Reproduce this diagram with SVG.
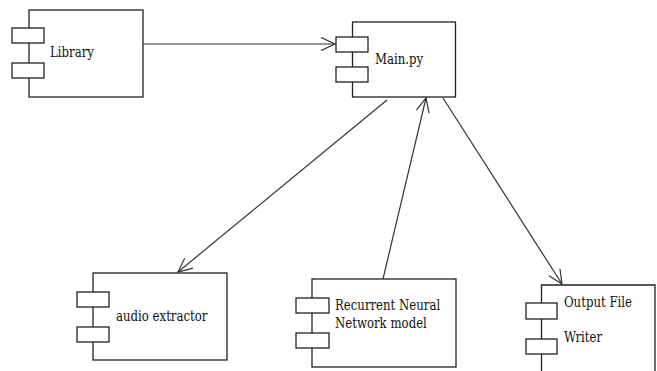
<svg xmlns="http://www.w3.org/2000/svg" width="657" height="371" viewBox="0 0 657 371">
<defs>
<style>
.box{fill:#fff;stroke:#222;stroke-width:1.3}
.port{fill:#fff;stroke:#222;stroke-width:1.3}
.lbl{font-family:"DejaVu Serif Condensed","DejaVu Serif",serif;font-size:15px;fill:#111}
.edge{fill:none;stroke:#333;stroke-width:1.2}
</style>
<marker id="open" viewBox="0 0 16 14" refX="15" refY="7" markerWidth="16" markerHeight="14" markerUnits="userSpaceOnUse" orient="auto">
<path d="M1,0.5 L15,7 L1,13.5" fill="none" stroke="#333" stroke-width="1.2"/>
</marker>
</defs>
<rect width="657" height="371" fill="#fff"/>
<g id="connectors">
<line class="edge" x1="143" y1="44" x2="335" y2="44" marker-end="url(#open)"/>
<line class="edge" x1="387" y1="100" x2="178" y2="272" marker-end="url(#open)"/>
<line class="edge" x1="383" y1="279" x2="426" y2="98" marker-end="url(#open)"/>
<line class="edge" x1="443" y1="98" x2="562" y2="284" marker-end="url(#open)"/>
</g>
<g id="library">
<rect class="box" x="29" y="10" width="114" height="87"/>
<rect class="port" x="12" y="28" width="32" height="15"/>
<rect class="port" x="12" y="63" width="32" height="15"/>
<text class="lbl" transform="translate(50,57) scale(0.87,1)">Library</text>
</g>
<g id="main">
<rect class="box" x="352.5" y="22" width="103" height="75"/>
<rect class="port" x="336" y="37" width="32" height="15"/>
<rect class="port" x="336" y="67" width="32" height="15"/>
<text class="lbl" transform="translate(375,64) scale(0.87,1)">Main.py</text>
</g>
<g id="audio">
<rect class="box" x="93" y="273" width="134" height="87"/>
<rect class="port" x="77" y="292" width="32" height="15"/>
<rect class="port" x="77" y="327" width="32" height="15"/>
<text class="lbl" transform="translate(116,321) scale(0.87,1)">audio extractor</text>
</g>
<g id="rnn">
<rect class="box" x="312" y="279" width="144" height="88"/>
<rect class="port" x="296" y="298" width="33" height="15"/>
<rect class="port" x="296" y="333" width="33" height="15"/>
<text class="lbl" transform="translate(335,310) scale(0.87,1)">Recurrent Neural</text>
<text class="lbl" transform="translate(335,328) scale(0.87,1)">Network model</text>
</g>
<g id="output">
<path class="box" d="M541.5,371 V285 H655 V371"/>
<rect class="port" x="526" y="303" width="31" height="16"/>
<rect class="port" x="526" y="339" width="31" height="15"/>
<text class="lbl" transform="translate(564,307) scale(0.87,1)">Output File</text>
<text class="lbl" transform="translate(564,342) scale(0.87,1)">Writer</text>
</g>
</svg>
